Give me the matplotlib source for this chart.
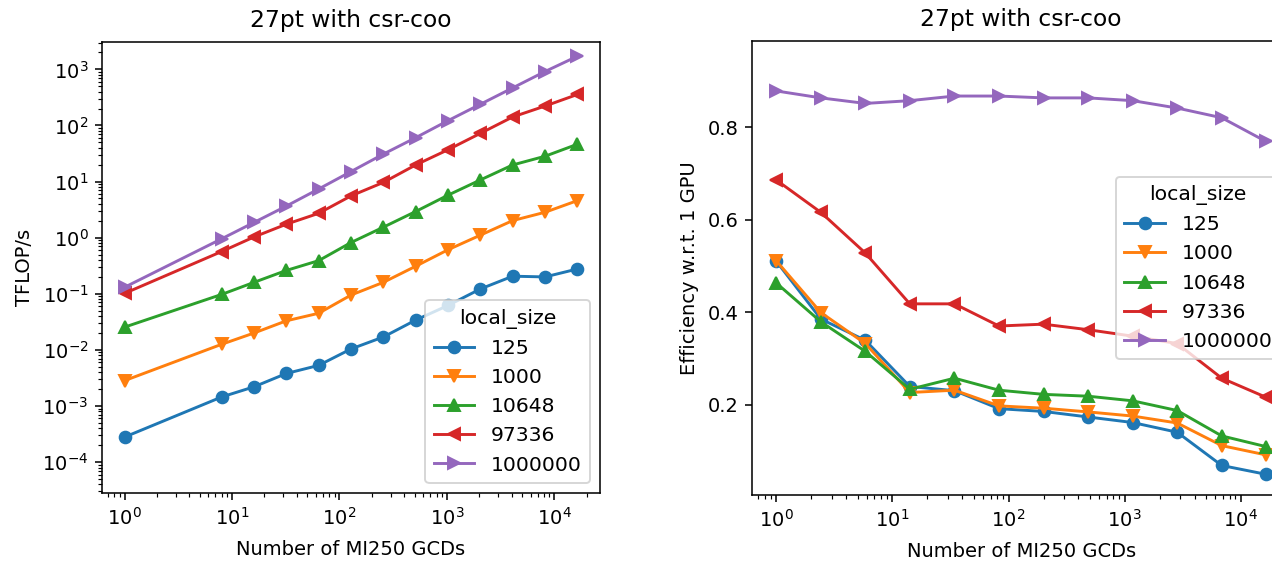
# Strong scaling of 27pt stencil SpMV (csr-coo) on MI250 GCDs
import matplotlib
matplotlib.use("Agg")
import matplotlib.pyplot as plt

local_sizes = ['125', '1000', '10648', '97336', '1000000']
markers = ['o', 'v', '^', '<', '>']

# left panel: throughput vs. number of GCDs
gcds = [1, 8, 16, 32, 64, 128, 256, 512, 1024, 2048, 4096, 8192, 16384]
tflops_125 = [2.8e-4, 1.45e-3, 2.2e-3, 3.8e-3, 5.3e-3, 0.0104, 0.017, 0.034, 0.062, 0.122, 0.206, 0.200, 0.277]
tflops_1000 = [2.84e-3, 0.0126, 0.020, 0.033, 0.045, 0.095, 0.16, 0.31, 0.61, 1.11, 2.02, 2.84, 4.58]
tflops_10648 = [0.0255, 0.0975, 0.16, 0.261, 0.39, 0.82, 1.54, 2.93, 5.73, 10.7, 19.8, 28.3, 46.3]
tflops_97336 = [0.102, 0.567, 1.03, 1.74, 2.72, 5.56, 9.67, 19.8, 37.0, 72.4, 142, 222, 357]
tflops_1000000 = [0.131, 0.956, 1.87, 3.66, 7.38, 15.1, 30.9, 60.6, 122, 239, 468, 916, 1714]

# right panel: efficiency vs. number of GCDs
gcds_eff = [1, 2.42, 5.84, 14.1, 34.2, 82.7, 200, 484, 1171, 2833, 6855, 16384]
eff_125 = [0.510, 0.385, 0.339, 0.239, 0.230, 0.191, 0.185, 0.173, 0.161, 0.140, 0.068, 0.049]
eff_1000 = [0.511, 0.399, 0.332, 0.226, 0.231, 0.197, 0.192, 0.184, 0.175, 0.160, 0.111, 0.091]
eff_10648 = [0.463, 0.379, 0.315, 0.233, 0.257, 0.231, 0.222, 0.218, 0.208, 0.187, 0.132, 0.109]
eff_97336 = [0.686, 0.616, 0.528, 0.418, 0.418, 0.370, 0.374, 0.362, 0.348, 0.332, 0.257, 0.216]
eff_1000000 = [0.879, 0.864, 0.852, 0.858, 0.868, 0.868, 0.864, 0.864, 0.858, 0.842, 0.821, 0.770]

tflops = [tflops_125, tflops_1000, tflops_10648, tflops_97336, tflops_1000000]
effs = [eff_125, eff_1000, eff_10648, eff_97336, eff_1000000]

# the screenshot is a ~1.4x upscale of default matplotlib output
dpi = 140
fig = plt.figure(figsize=(1272 / dpi, 566 / dpi), dpi=dpi)
ax1 = fig.add_axes([0.0802, 0.129, 0.3915, 0.796])
ax2 = fig.add_axes([0.591, 0.1254, 0.4237, 0.802])  # right part is cropped off in the original

for size, mk, ys in zip(local_sizes, markers, tflops):
    ax1.plot(gcds, ys, marker=mk, label=size)
ax1.set_xscale('log')
ax1.set_yscale('log')
ax1.set_ylim(10**-4.55, 10**3.48)
ax1.set_title("27pt with csr-coo", pad=8)
ax1.set_xlabel("Number of MI250 GCDs", labelpad=6)
ax1.set_ylabel("TFLOP/s")
ax1.legend(title="local_size", loc="lower right", fontsize=10.5, title_fontsize=10.5)

for size, mk, ys in zip(local_sizes, markers, effs):
    ax2.plot(gcds_eff, ys, marker=mk, label=size)
ax2.set_xscale('log')
ax2.set_xlim(10**-0.212, 10**4.43)
ax2.set_ylim(0.004, 0.987)
ax2.set_yticks([0.2, 0.4, 0.6, 0.8])
ax2.set_title("27pt with csr-coo", pad=8)
ax2.set_xlabel("Number of MI250 GCDs", labelpad=6)
ax2.set_ylabel("Efficiency w.r.t. 1 GPU")
ax2.legend(title="local_size", loc="center right", fontsize=10.5, title_fontsize=10.5)

fig.savefig("out.png", dpi=dpi)
